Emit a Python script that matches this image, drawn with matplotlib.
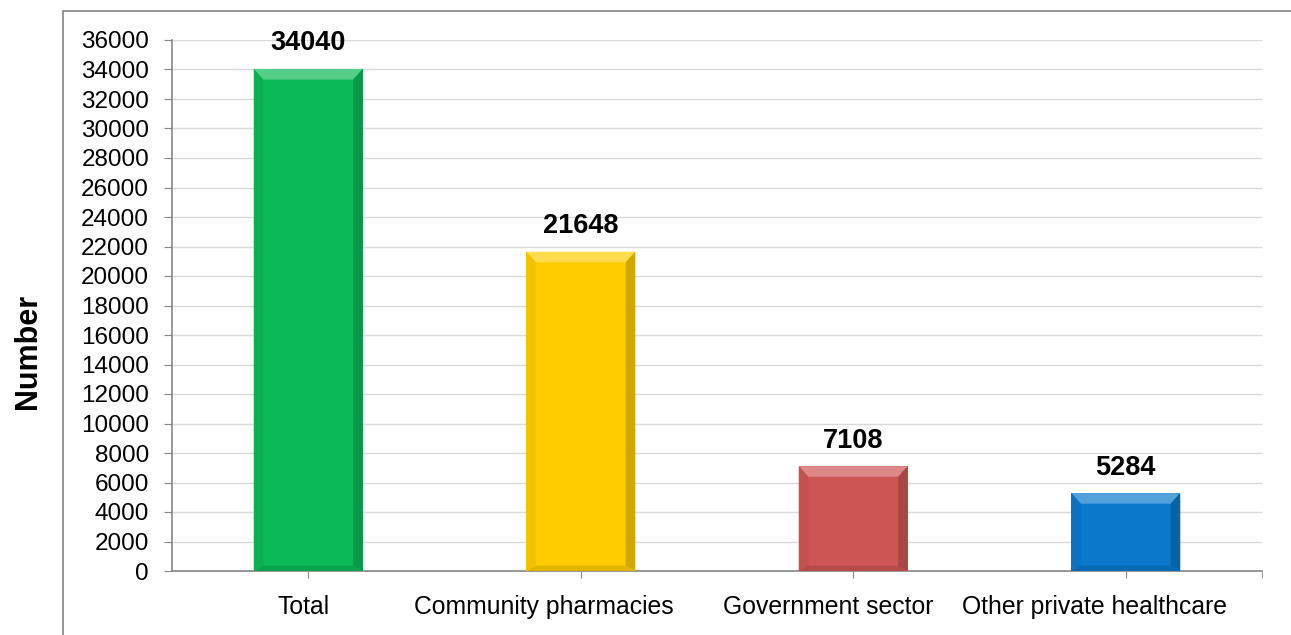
import matplotlib.pyplot as plt
import matplotlib.patches as mpatches
from matplotlib.colors import to_rgb
from matplotlib.transforms import ScaledTranslation

plt.rcParams['font.family'] = ['Liberation Sans', 'DejaVu Sans']

categories = ['Total', 'Community pharmacies', 'Government sector', 'Other private healthcare']
values = [34040, 21648, 7108, 5284]
colors = ['#0bb957', '#ffcc00', '#cd5554', '#0a78cb']
yticks = list(range(0, 36001, 2000))


def shade(c, f):
    r, g, b = to_rgb(c)
    if f > 0:
        return (r + (1 - r) * f, g + (1 - g) * f, b + (1 - b) * f)
    return (r * (1 + f), g * (1 + f), b * (1 + f))


fig = plt.figure(figsize=(12.91, 6.35), dpi=100)
# outer frame
fig.patches.append(mpatches.Rectangle((63 / 1291, -0.1), 1.2, 1.1 - 11 / 635,
                                      transform=fig.transFigure, fill=False,
                                      edgecolor='#8c8c8c', linewidth=1.3))
ax = fig.add_axes([172 / 1291, 1 - 571 / 635, (1262 - 172) / 1291, (571 - 40) / 635])

width = 0.4
x = list(range(len(categories)))
ax.bar(x, values, width=width, color=colors, zorder=3)

# bevel effect
bx = 0.035
by = 36000 * 0.02
for xi, v, c in zip(x, values, colors):
    l, r = xi - width / 2, xi + width / 2
    top = [(l, v), (r, v), (r - bx, v - by), (l + bx, v - by)]
    right = [(r, v), (r, 0), (r - bx, by * 0.5), (r - bx, v - by)]
    left = [(l, v), (l, 0), (l + bx, by * 0.5), (l + bx, v - by)]
    bottom = [(l, 0), (r, 0), (r - bx, by * 0.5), (l + bx, by * 0.5)]
    ax.add_patch(mpatches.Polygon(top, closed=True, color=shade(c, 0.3), lw=0, zorder=4))
    ax.add_patch(mpatches.Polygon(right, closed=True, color=shade(c, -0.18), lw=0, zorder=4))
    ax.add_patch(mpatches.Polygon(left, closed=True, color=shade(c, -0.05), lw=0, zorder=4))
    ax.add_patch(mpatches.Polygon(bottom, closed=True, color=shade(c, -0.12), lw=0, zorder=4))
    ax.annotate(str(v), (xi, v), xytext=(0, 9), textcoords='offset points',
                ha='center', va='bottom', fontsize=19.5, fontweight='bold', zorder=5)

ax.set_xlim(-0.5, 3.5)
ax.set_ylim(0, 36000)
ax.set_yticks(yticks)
ax.set_xticks(x)
ax.set_xticklabels(categories, fontsize=17.8)
ax.set_xticks([3.5], minor=True)
ax.tick_params(axis='y', labelsize=17.5, length=6, color='#868686', pad=10.5)
ax.tick_params(axis='x', which='both', length=5, color='#868686', pad=12)

# labels sit a little left of their ticks in the original
shifts_px = [-5, -37, -25, -31]
for lab, dx in zip(ax.get_xticklabels(), shifts_px):
    lab.set_transform(lab.get_transform() + ScaledTranslation(dx / 100, 0, fig.dpi_scale_trans))

ax.grid(axis='y', color='#d9d9d9', linewidth=1, zorder=0)
for s in ['top', 'right']:
    ax.spines[s].set_visible(False)
for s in ['left', 'bottom']:
    ax.spines[s].set_color('#868686')
    ax.spines[s].set_linewidth(1.2)
ax.set_ylabel('Number', fontsize=22, fontweight='bold')
ax.yaxis.set_label_coords(-0.118, 0.414)

plt.savefig('out.png', dpi=100)
